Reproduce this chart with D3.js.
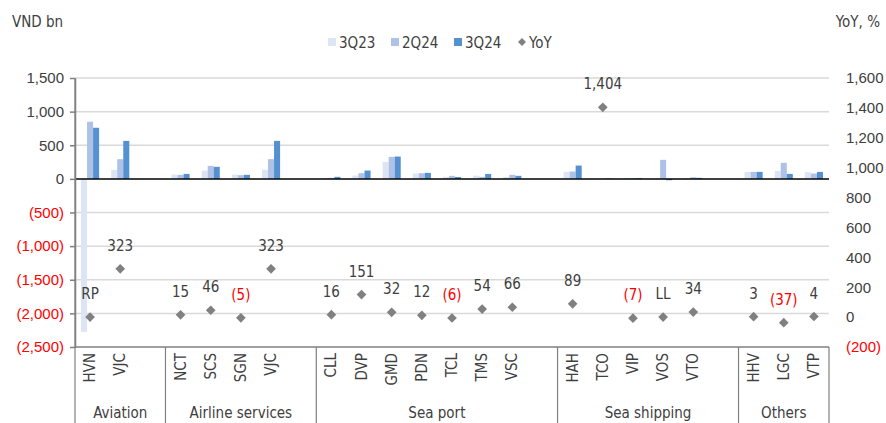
<!DOCTYPE html>
<html>
<head>
<meta charset="utf-8">
<script src="https://cdn.jsdelivr.net/npm/d3@7/dist/d3.min.js"></script>
<style>
  html, body { margin: 0; padding: 0; background: #fff; }
  svg { display: block; font-family: "DejaVu Sans Condensed", "DejaVu Sans", sans-serif; font-stretch: condensed; }
</style>
</head>
<body>
<svg id="chart" width="886" height="423"></svg>
<script>
// Industry groups and the tickers within them (an empty slot closes each group)
const groups = ["Aviation", "Airline services", "Sea port", "Sea shipping", "Others"];
const tickers = [
  ["HVN", "VJC"],
  ["NCT", "SCS", "SGN", "VJC"],
  ["CLL", "DVP", "GMD", "PDN", "TCL", "TMS", "VSC"],
  ["HAH", "TCO", "VIP", "VOS", "VTO"],
  ["HHV", "LGC", "VTP"]
];

// Quarterly figures, VND bn, in ticker order
const series = ["3Q23", "2Q24", "3Q24"];
const q3_23 = [-2275, 134, 64, 123, 63, 134, 13, 49, 252, 79, 30, 48, 27, 105, 0.4, 13, -10, 11, 103, 117, 100];
const q2_24 = [850, 293, 60, 193, 55, 293, 15, 84, 327, 84, 45, 30, 60, 109, 1, 10, 283, 25, 104, 238, 79];
const q3_24 = [760, 565, 74, 179, 60, 565, 30, 124, 332, 89, 28, 74, 45, 198, 6, 12, -20, 15, 104, 74, 104];

// Year-over-year change, %; RP = return to profit, LL = loss-making in both periods
const yoy = [0, 323, 15, 46, -5, 323, 16, 151, 32, 12, -6, 54, 66, 89, 1404, -7, 0, 34, 3, -37, 4];
const yoyText = ["RP", null, null, null, null, null, null, null, null, null, null, null, null, null, null, null, "LL", null, null, null, null];

// Axis ticks
const leftTicks = [1500, 1000, 500, 0, -500, -1000, -1500, -2000, -2500];
const rightTicks = [1600, 1400, 1200, 1000, 800, 600, 400, 200, 0, -200];

const colors = { "3Q23": "#dce5f4", "2Q24": "#adc2e6", "3Q24": "#5591d0", "YoY": "#808080" };
const textColor = "#404040";
const negColor = "#ff0000";

// Build the slot list: each group's tickers followed by a spacer slot (except the last group)
const slots = [];
const rows = [];
let idx = 0;
tickers.forEach((list, g) => {
  list.forEach(t => {
    const key = "s" + slots.length;
    slots.push({ key, label: t, group: g });
    rows.push({ key, ticker: t, group: g,
      values: { "3Q23": q3_23[idx], "2Q24": q2_24[idx], "3Q24": q3_24[idx] },
      yoy: yoy[idx], yoyText: yoyText[idx] });
    idx++;
  });
  if (g < tickers.length - 1) slots.push({ key: "s" + slots.length, label: "", group: g });
});

const svg = d3.select("#chart");
const m = { left: 75, right: 829, top: 78, bottom: 347 };

const x = d3.scaleBand().domain(slots.map(s => s.key)).range([m.left, m.right]).padding(0);
const xInner = d3.scaleBand().domain(series)
  .range([x.bandwidth() * 0.2, x.bandwidth() * 0.8]).padding(0);
const yL = d3.scaleLinear().domain([-2500, 1500]).range([m.bottom, m.top]);
const yR = d3.scaleLinear().domain([-200, 1600]).range([m.bottom, m.top]);

const fmt = v => v < 0 ? "(" + d3.format(",")(-v) + ")" : d3.format(",")(v);

// Gridlines
svg.append("g").selectAll("line").data(leftTicks.filter(t => t !== 0 && t !== -2500)).join("line")
  .attr("x1", m.left).attr("x2", m.right)
  .attr("y1", d => yL(d)).attr("y2", d => yL(d))
  .attr("stroke", "#d9d9d9").attr("stroke-width", 1.5);

// Bars
const barG = svg.append("g");
rows.forEach(r => {
  series.forEach(s => {
    const v = r.values[s];
    barG.append("rect")
      .attr("x", x(r.key) + xInner(s))
      .attr("width", xInner.bandwidth())
      .attr("y", Math.min(yL(v), yL(0)))
      .attr("height", Math.abs(yL(v) - yL(0)))
      .attr("fill", colors[s]);
  });
});

// Zero line
svg.append("line").attr("x1", m.left).attr("x2", m.right)
  .attr("y1", yL(0)).attr("y2", yL(0)).attr("stroke", "#000").attr("stroke-width", 1.5);

// Left axis
const leftAxis = d3.axisLeft(yL).tickValues(leftTicks).tickFormat(fmt).tickSizeInner(5).tickSizeOuter(0).tickPadding(6);
const gL = svg.append("g").attr("transform", `translate(${m.left},0)`).call(leftAxis);
gL.select(".domain").attr("stroke", "#7f7f7f").attr("stroke-width", 1.5);
gL.selectAll(".tick line").attr("stroke", "#7f7f7f").attr("stroke-width", 1.5);
gL.selectAll(".tick text").attr("font-size", 15).attr("font-family", null)
  .attr("fill", d => d < 0 ? negColor : textColor);

// Right axis (labels only)
const rightAxis = d3.axisRight(yR).tickValues(rightTicks).tickFormat(fmt).tickSize(0).tickPadding(17);
const gR = svg.append("g").attr("transform", `translate(${m.right},0)`).call(rightAxis);
gR.select(".domain").remove();
gR.selectAll(".tick text").attr("font-size", 15).attr("font-family", null)
  .attr("fill", d => d < 0 ? negColor : textColor);

// Bottom category line and group separators
svg.append("line").attr("x1", m.left).attr("x2", m.right)
  .attr("y1", m.bottom).attr("y2", m.bottom).attr("stroke", "#7f7f7f").attr("stroke-width", 1.5);

const groupBounds = groups.map((g, i) => {
  const inG = slots.filter(s => s.group === i);
  return { name: g, x0: x(inG[0].key), x1: x(inG[inG.length - 1].key) + x.bandwidth() };
});
const seps = [m.left, ...groupBounds.map(b => b.x1)];
svg.append("g").selectAll("line").data(seps).join("line")
  .attr("x1", d => d).attr("x2", d => d)
  .attr("y1", m.top).attr("y2", 423)
  .attr("stroke", "#7f7f7f").attr("stroke-width", 1.2)
  .attr("y1", (d, i) => i === 0 ? m.top : m.bottom);

// Rotated ticker labels
svg.append("g").selectAll("text").data(slots.filter(s => s.label)).join("text")
  .attr("transform", d => `translate(${x(d.key) + x.bandwidth() / 2 + 5},${m.bottom + 6}) rotate(-90)`)
  .attr("text-anchor", "end")
  .attr("font-size", 15).attr("fill", textColor)
  .text(d => d.label);

// Group labels
svg.append("g").selectAll("text").data(groupBounds).join("text")
  .attr("x", d => (d.x0 + d.x1) / 2).attr("y", 418)
  .attr("text-anchor", "middle").attr("font-size", 15).attr("fill", textColor)
  .text(d => d.name);

// YoY diamonds and labels
const diamond = d3.symbol().type(d3.symbolDiamond2).size(60);
const ptG = svg.append("g");
rows.forEach(r => {
  const cx = x(r.key) + x.bandwidth() / 2;
  const cy = yR(r.yoy);
  ptG.append("path").attr("d", diamond()).attr("transform", `translate(${cx},${cy})`)
    .attr("fill", colors.YoY);
  ptG.append("text").attr("x", cx).attr("y", cy - 18)
    .attr("text-anchor", "middle").attr("font-size", 15)
    .attr("fill", r.yoyText ? textColor : (r.yoy < 0 ? negColor : textColor))
    .text(r.yoyText || fmt(r.yoy));
});

// Axis titles
svg.append("text").attr("x", 12).attr("y", 27).attr("font-size", 15).attr("fill", textColor).text("VND bn");
svg.append("text").attr("x", 880).attr("y", 27).attr("text-anchor", "end").attr("font-size", 15).attr("fill", textColor).text("YoY, %");

// Legend
const legendItems = [
  { name: "3Q23", x: 328, type: "rect" },
  { name: "2Q24", x: 391, type: "rect" },
  { name: "3Q24", x: 454, type: "rect" },
  { name: "YoY", x: 518, type: "diamond" }
];
const lg = svg.append("g");
legendItems.forEach(it => {
  if (it.type === "rect") {
    lg.append("rect").attr("x", it.x).attr("y", 38).attr("width", 8).attr("height", 8).attr("fill", colors[it.name]);
  } else {
    lg.append("path").attr("d", d3.symbol().type(d3.symbolDiamond2).size(40)())
      .attr("transform", `translate(${it.x + 4},42)`).attr("fill", colors.YoY);
  }
  lg.append("text").attr("x", it.x + 11).attr("y", 47.5).attr("font-size", 15).attr("fill", textColor).text(it.name);
});
</script>
</body>
</html>
